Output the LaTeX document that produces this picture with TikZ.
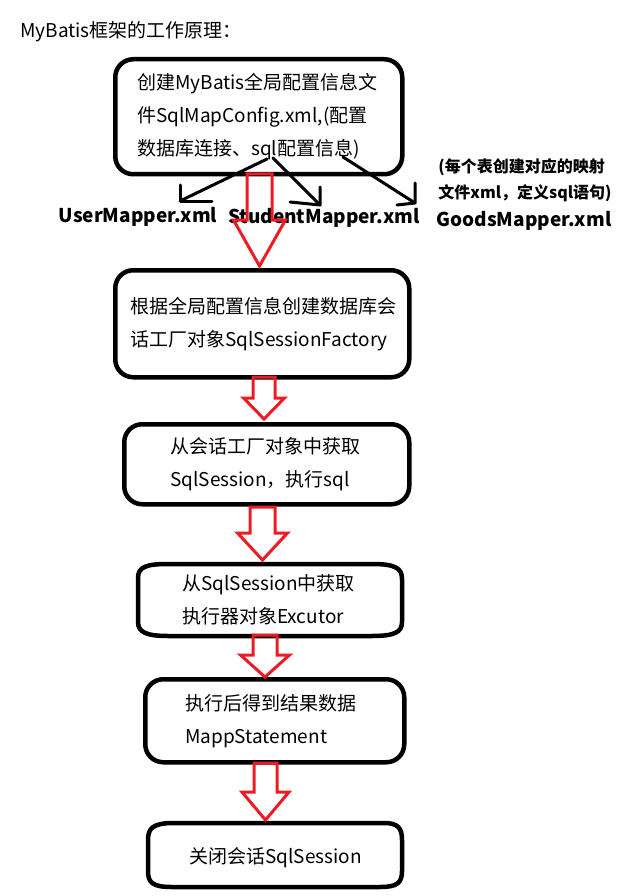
\documentclass[tikz,border=0pt]{standalone}
\usepackage{fontspec}
\setmainfont{Noto Sans CJK SC}
\usetikzlibrary{calc}
\definecolor{arrowred}{RGB}{237,28,36}
\newcommand\flowfont{\fontsize{19}{33}\selectfont}
\newcommand\mapperfont{\fontsize{19}{24}\selectfont\bfseries}
\newcommand\notefont{\fontsize{16}{26}\selectfont\bfseries}
% hollow red block arrow: start, end, shaft half width, head half width, head length
\newcommand\hollowarrow[5]{%
  \draw[blockarrow] ($(#1)+(-#3,0)$) -- ($(#2)+(-#3,-#5)$) -- ($(#2)+(-#4,-#5)$)
    -- (#2) -- ($(#2)+(#4,-#5)$) -- ($(#2)+(#3,-#5)$) -- ($(#1)+(#3,0)$) -- cycle;}
\begin{document}
\begin{tikzpicture}[x=1pt,y=-1pt,
  stepbox/.style={draw, line width=4.5pt, rounded corners=18pt, align=left,
    inner ysep=0pt, anchor=north west, font=\flowfont},
  plainbox/.style={stepbox, draw=none},
  outline/.style={line width=4.5pt, line join=round},
  blockarrow/.style={draw=arrowred, line width=3pt, line join=miter},
  pointer/.style={line width=3pt, line cap=round, line join=round},
  label/.style={inner sep=0pt}]
\useasboundingbox (0,0) rectangle (636,896);

% title
\node[label, anchor=west, font=\flowfont] (title) at (20,32) {MyBatis框架的工作原理：};

% flow steps
\node[stepbox, inner xsep=22pt, text width=243pt, minimum height=115pt] (b1) at (113,57)
  {创建MyBatis全局配置信息文\\件SqlMapConfig.xml,(配置\\数据库连接、sql配置信息)};
\node[stepbox, inner xsep=15pt, text width=264pt, minimum height=107pt] (b2) at (113,268)
  {根据全局配置信息创建数据库会\\话工厂对象SqlSessionFactory};
\node[stepbox, inner xsep=46pt, text width=193pt, minimum height=80pt] (b3) at (122,422)
  {从会话工厂对象中获取\\SqlSession，执行sql};
\node[plainbox, inner xsep=42pt, text width=180pt, minimum height=72pt] (b4) at (138,562)
  {从SqlSession中获取\\执行器对象Excutor};
\draw[outline] (138,590) -- (138,578) .. controls (138,567) and (146,564) .. (168,564)
  -- (372,564) .. controls (395,564) and (402,568) .. (402,579)
  -- (402,622) .. controls (402,632) and (395,636) .. (372,636)
  -- (168,636) .. controls (146,636) and (138,632) .. (138,622) -- cycle;
\node[stepbox, inner xsep=40pt, text width=179pt, minimum height=83pt] (b5) at (143,677)
  {执行后得到结果数据\\MappStatement};
\node[plainbox, inner xsep=39pt, text width=176pt, minimum height=64pt] (b6) at (148,823)
  {关闭会话SqlSession};
\draw[outline] (148,850) -- (148,840) .. controls (148,828) and (153,823) .. (174,823)
  -- (384,823) .. controls (398,823) and (402,828) .. (402,840)
  -- (402,871) .. controls (402,883) and (397,887) .. (380,887)
  -- (172,887) .. controls (153,887) and (148,883) .. (148,871) -- cycle;

% mapper files
\node[label, font=\mapperfont] (user) at (138,217) {UserMapper.xml};
\node[label, font=\mapperfont] (student) at (324,218) {StudentMapper.xml};
\node[label, font=\mapperfont] (goods) at (524,221) {GoodsMapper.xml};
\node[label, font=\notefont, align=left] (note) at (525,180)
  {(每个表创建对应的映射\\文件xml，定义sql语句)};

% pointers from the configuration file to the mapper files
\coordinate (s1) at (267,159); \coordinate (t1) at (180,201);
\coordinate (s2) at (273,158); \coordinate (t2) at (320,205);
\coordinate (s3) at (343,157); \coordinate (t3) at (415,203);
\draw[pointer] (s1) -- (t1);
\draw[pointer] (t1) ++(0,-16) -- (t1) -- ++(32,0);
\draw[pointer] (s2) -- (t2);
\draw[pointer] (t2) ++(0,-18) -- (t2) -- ++(-30,-3);
\draw[pointer] (s3) -- (t3);
\draw[pointer] (t3) ++(0,-20) -- (t3) -- ++(-18,2);

% red hollow arrows between the steps
\coordinate (a1s) at (259.5,174); \coordinate (a1e) at (259.5,266);
\coordinate (a2s) at (264,377);   \coordinate (a2e) at (264,419);
\coordinate (a3s) at (262.5,507); \coordinate (a3e) at (262.5,560);
\coordinate (a4s) at (265,635);   \coordinate (a4e) at (265,677);
\coordinate (a5s) at (265.5,763); \coordinate (a5e) at (265.5,820);
\hollowarrow{a1s}{a1e}{12.5}{26}{46}
\hollowarrow{a2s}{a2e}{11}{20.5}{21}
\hollowarrow{a3s}{a3e}{12.5}{25}{27}
\hollowarrow{a4s}{a4e}{12}{24.5}{22}
\hollowarrow{a5s}{a5e}{11.5}{23.5}{28}
\end{tikzpicture}
\end{document}
